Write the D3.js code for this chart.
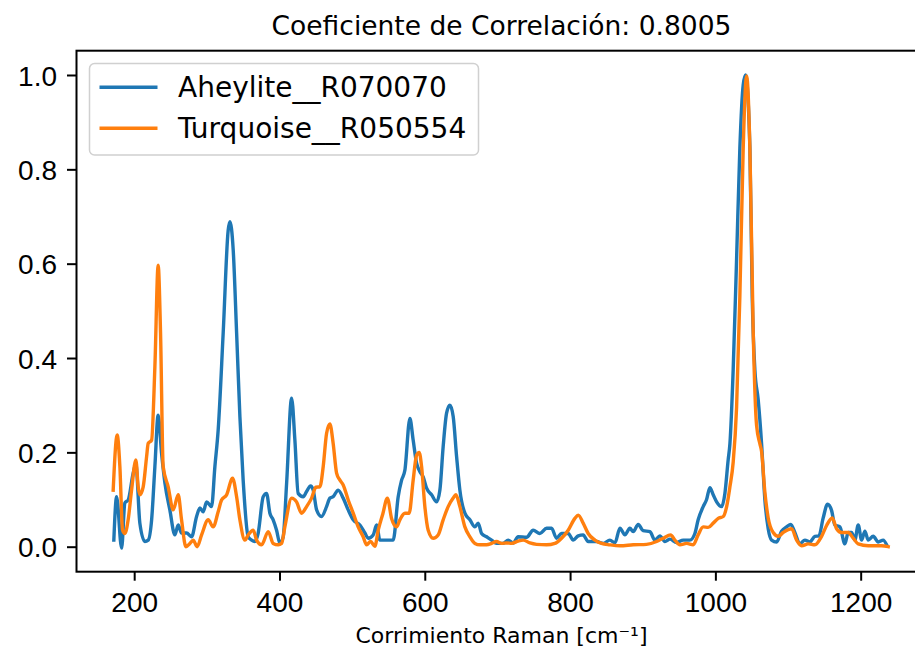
<!DOCTYPE html>
<html>
<head>
<meta charset="utf-8">
<script src="https://cdn.jsdelivr.net/npm/d3@7"></script>
<style>
  body { margin: 0; background: #fff; }
  svg { display: block; font-family: 'DejaVu Sans', sans-serif; }
  .axis text { fill: #000; }
</style>
</head>
<body>
<div id="chart"></div>
<script>
// Raman shift (cm^-1) and normalised intensity
const aheyliteX = [172, 175.8, 182.7, 187.2, 191.7, 198.6, 202.3, 207.8, 214.7, 219.3, 224, 228.5, 233, 237.7, 242.3, 249.1, 256, 260.6, 265.2, 272.1, 279, 285.9, 290.4, 295, 299.7, 306.5, 311.1, 315.6, 322.5, 329.4, 331.7, 336.3, 341, 345.5, 350, 356.9, 361.6, 366.1, 370.7, 377.6, 382.2, 386.8, 391.3, 396, 400.6, 405.1, 409.8, 416.7, 421.2, 425.7, 432.6, 437.3, 442.8, 446.4, 451.1, 457.9, 464.8, 469.4, 473.9, 480.8, 487.7, 494.6, 501.5, 510.7, 517.6, 522.1, 529, 533.7, 538.2, 545.1, 556.5, 563.4, 568.1, 572.6, 579.5, 584, 588.7, 593.3, 597.8, 602.5, 609.4, 616.3, 620.8, 625.3, 630, 634.6, 639.1, 643.8, 648.3, 655.2, 662.1, 669, 673.5, 678.2, 685.1, 692, 698.8, 707.9, 714.8, 721.7, 728.5, 740.1, 749.2, 758.4, 767.7, 774.5, 781.4, 788.3, 797.4, 804.3, 811.2, 818, 824.9, 836.5, 845.6, 854.8, 861.7, 868.6, 875.5, 882.3, 886.9, 893.8, 900.6, 909.9, 916.7, 923.6, 930.5, 937.4, 946.6, 955.7, 964.9, 971.8, 976.3, 983.2, 987.9, 992.4, 997, 1001.7, 1008.6, 1013.1, 1017.6, 1020, 1024.5, 1029.2, 1033.7, 1038.3, 1041.6, 1047.5, 1050.7, 1054.4, 1058.9, 1063.6, 1068.1, 1072.7, 1077.4, 1084.3, 1091.1, 1098, 1103.9, 1109.4, 1116.3, 1123.2, 1130.1, 1137, 1142.5, 1148.4, 1154.4, 1159.9, 1164.5, 1171.4, 1178.3, 1182.8, 1187.5, 1192, 1196.6, 1201.3, 1205.8, 1210.4, 1217.3, 1224.1, 1231, 1235.7];
const aheyliteY = [0.014, 0.106, -0.003, 0.093, 0.099, 0.156, 0.175, 0.05, 0.011, 0.014, 0.057, 0.17, 0.279, 0.198, 0.135, 0.078, 0.025, 0.046, 0.029, 0.029, 0.021, 0.064, 0.082, 0.074, 0.095, 0.085, 0.17, 0.247, 0.453, 0.671, 0.689, 0.629, 0.453, 0.276, 0.141, 0.021, 0.014, 0.011, 0.029, 0.106, 0.113, 0.071, 0.057, 0.035, 0.007, 0.021, 0.134, 0.315, 0.226, 0.113, 0.106, 0.117, 0.129, 0.12, 0.078, 0.064, 0.085, 0.103, 0.106, 0.12, 0.103, 0.078, 0.057, 0.046, 0.029, 0.018, 0.025, 0.046, 0.014, 0.014, 0.014, 0.106, 0.141, 0.162, 0.272, 0.226, 0.177, 0.159, 0.148, 0.124, 0.11, 0.095, 0.12, 0.212, 0.283, 0.3, 0.276, 0.191, 0.12, 0.071, 0.057, 0.042, 0.05, 0.028, 0.021, 0.014, 0.007, 0.007, 0.014, 0.008, 0.021, 0.02, 0.035, 0.028, 0.039, 0.039, 0.018, 0.028, 0.028, 0.014, 0.023, 0.025, 0.011, 0.011, 0.007, 0.014, 0.008, 0.039, 0.025, 0.039, 0.032, 0.047, 0.034, 0.032, 0.014, 0.023, 0.011, 0.016, 0.009, 0.014, 0.014, 0.028, 0.057, 0.085, 0.1, 0.125, 0.11, 0.095, 0.085, 0.113, 0.184, 0.218, 0.375, 0.61, 0.845, 0.979, 1.0, 0.845, 0.531, 0.374, 0.312, 0.218, 0.1, 0.038, 0.014, 0.01, 0.033, 0.042, 0.047, 0.03, 0.006, 0.014, 0.01, 0.022, 0.023, 0.061, 0.09, 0.077, 0.046, 0.042, 0.006, 0.03, 0.03, 0.014, 0.046, 0.014, 0.033, 0.014, 0.022, 0.01, 0.014, 0.004];

const turquoiseX = [171.1, 176.6, 180.3, 184, 187.2, 191.7, 196.4, 202.3, 205.5, 207.8, 212.4, 217.1, 219.3, 224, 228.5, 233, 236.3, 239.9, 246.8, 253.7, 260.6, 265.2, 271.2, 276.7, 281.2, 286.7, 292.8, 301.9, 308.7, 315.6, 320.3, 327.2, 335.4, 341, 345.5, 352.4, 356.9, 363.8, 368.5, 375.4, 384.5, 391.3, 398.2, 402.9, 407.4, 416.7, 423.5, 430.4, 437.3, 444.2, 450.1, 455.6, 460.2, 464.8, 469.4, 473.9, 478.6, 483.2, 487.7, 494.6, 501.5, 508.3, 515.2, 519.9, 525.4, 531.3, 535.9, 542.3, 548.5, 554.3, 561.2, 565.7, 572.6, 578.5, 584, 588.7, 592.3, 595.6, 600.1, 604.7, 611.6, 618.4, 625.3, 632.2, 639.1, 642.8, 648.3, 655.2, 662.1, 669, 675.9, 685.1, 692, 698.8, 705.7, 712.6, 719.5, 728.6, 735.5, 744.7, 753.9, 767.7, 779.1, 788.3, 797.4, 806.6, 811.2, 818, 824.9, 834.2, 843.4, 854.8, 868.6, 886.9, 905.3, 919.1, 928.2, 938.4, 944.3, 951.2, 960.4, 969.5, 976.3, 983.2, 990.1, 997, 1003.9, 1010.8, 1015.5, 1020, 1024.5, 1029.2, 1033.7, 1038.3, 1043, 1047.5, 1052.1, 1056.7, 1061.3, 1063.6, 1068.1, 1072.7, 1079.6, 1086.5, 1093.3, 1104.9, 1111.8, 1118.7, 1127.8, 1137, 1146.2, 1153.1, 1160.8, 1166.8, 1173.7, 1182.8, 1189.7, 1196.6, 1210.4, 1228.8, 1237.9];
const turquoiseY = [0.12, 0.237, 0.17, 0.035, 0.028, 0.057, 0.12, 0.184, 0.127, 0.11, 0.127, 0.191, 0.219, 0.226, 0.382, 0.597, 0.452, 0.17, 0.127, 0.078, 0.11, 0.057, 0.0, 0.007, 0.014, 0.0, 0.025, 0.057, 0.042, 0.074, 0.099, 0.11, 0.145, 0.106, 0.057, 0.014, 0.025, 0.035, 0.014, 0.004, 0.032, 0.007, 0.004, 0.007, 0.042, 0.103, 0.095, 0.071, 0.085, 0.103, 0.126, 0.127, 0.17, 0.24, 0.26, 0.219, 0.156, 0.141, 0.131, 0.099, 0.071, 0.042, 0.021, 0.004, 0.011, 0.001, 0.035, 0.07, 0.103, 0.06, 0.042, 0.057, 0.071, 0.071, 0.141, 0.194, 0.2, 0.17, 0.085, 0.035, 0.018, 0.025, 0.057, 0.085, 0.103, 0.11, 0.085, 0.042, 0.021, 0.007, 0.004, 0.004, 0.007, 0.011, 0.007, 0.008, 0.007, 0.012, 0.014, 0.008, 0.005, 0.004, 0.007, 0.018, 0.035, 0.06, 0.067, 0.05, 0.028, 0.014, 0.007, 0.004, 0.002, 0.004, 0.005, 0.011, 0.018, 0.025, 0.014, 0.004, 0.007, 0.004, 0.025, 0.042, 0.041, 0.05, 0.06, 0.064, 0.085, 0.127, 0.179, 0.296, 0.531, 0.845, 0.998, 0.845, 0.453, 0.257, 0.218, 0.202, 0.116, 0.061, 0.03, 0.022, 0.03, 0.038, 0.014, 0.002, 0.006, 0.004, 0.022, 0.045, 0.061, 0.038, 0.03, 0.03, 0.018, 0.006, 0.002, 0.002, 0.0];

const seriesNames = ['Aheylite__R070070', 'Turquoise__R050554'];
const seriesColors = ['#1f77b4', '#ff7f0e'];
const xTicks = [200, 400, 600, 800, 1000, 1200];
const yTicks = [0.0, 0.2, 0.4, 0.6, 0.8, 1.0];
const titleText = 'Coeficiente de Correlación: 0.8005';
const xLabelText = 'Corrimiento Raman [cm⁻¹]';

const width = 915;
const height = 650;
const plot = { left: 76.5, right: 926.5, top: 50.7, bottom: 571.7 };

const svg = d3.select('#chart')
  .append('svg')
  .attr('width', width)
  .attr('height', height);

const x = d3.scaleLinear()
  .domain([120.6, 1290.6])
  .range([plot.left, plot.right]);

const y = d3.scaleLinear()
  .domain([-0.053, 1.0515])
  .range([plot.bottom, plot.top]);

const series = [
  aheyliteX.map((v, i) => ({ x: v, y: aheyliteY[i] })),
  turquoiseX.map((v, i) => ({ x: v, y: turquoiseY[i] })),
];

const line = d3.line()
  .x(d => x(d.x))
  .y(d => y(d.y))
  .curve(d3.curveMonotoneX);

series.forEach((data, i) => {
  svg.append('path')
    .datum(data)
    .attr('fill', 'none')
    .attr('stroke', seriesColors[i])
    .attr('stroke-width', 3.4)
    .attr('stroke-linejoin', 'round')
    .attr('stroke-linecap', 'square')
    .attr('d', line);
});

// axes
const xAxis = d3.axisBottom(x)
  .tickValues(xTicks)
  .tickSizeInner(9)
  .tickSizeOuter(0)
  .tickFormat(d3.format('d'));

const xg = svg.append('g')
  .attr('class', 'axis')
  .attr('transform', `translate(0, ${plot.bottom})`)
  .call(xAxis);
xg.select('.domain').remove();
xg.selectAll('line').attr('stroke', '#000').attr('stroke-width', 2);
xg.selectAll('text')
  .attr('y', 40.5)
  .attr('dy', 0)
  .style('font-size', '28px');

const yAxis = d3.axisLeft(y)
  .tickValues(yTicks)
  .tickSizeInner(9.5)
  .tickSizeOuter(0)
  .tickPadding(10)
  .tickFormat(d3.format('.1f'));

const yg = svg.append('g')
  .attr('class', 'axis')
  .attr('transform', `translate(${plot.left}, 0)`)
  .call(yAxis);
yg.select('.domain').remove();
yg.selectAll('line').attr('stroke', '#000').attr('stroke-width', 2);
yg.selectAll('text')
  .attr('dy', '0.36em')
  .style('font-size', '28px');

// spines
svg.append('rect')
  .attr('x', plot.left)
  .attr('y', plot.top)
  .attr('width', plot.right - plot.left)
  .attr('height', plot.bottom - plot.top)
  .attr('fill', 'none')
  .attr('stroke', '#000')
  .attr('stroke-width', 2);

// title and axis label
svg.append('text')
  .attr('x', (plot.left + plot.right) / 2)
  .attr('y', 34.5)
  .attr('text-anchor', 'middle')
  .style('font-size', '26.5px')
  .text(titleText);

svg.append('text')
  .attr('x', (plot.left + plot.right) / 2)
  .attr('y', 643)
  .attr('text-anchor', 'middle')
  .style('font-size', '22px')
  .text(xLabelText);

// legend
const legend = svg.append('g');
legend.append('rect')
  .attr('x', 89.5)
  .attr('y', 63.5)
  .attr('width', 389)
  .attr('height', 91.5)
  .attr('rx', 5)
  .attr('fill', 'rgba(255,255,255,0.8)')
  .attr('stroke', '#d0d0d0')
  .attr('stroke-width', 1.5);

seriesNames.forEach((name, i) => {
  const cy = 87.3 + i * 41;
  legend.append('line')
    .attr('x1', 99.5)
    .attr('x2', 157.5)
    .attr('y1', cy)
    .attr('y2', cy)
    .attr('stroke', seriesColors[i])
    .attr('stroke-width', 3.4);
  legend.append('text')
    .attr('x', 178)
    .attr('y', cy + 9.8)
    .style('font-size', '28px')
    .text(name);
});
</script>
</body>
</html>
